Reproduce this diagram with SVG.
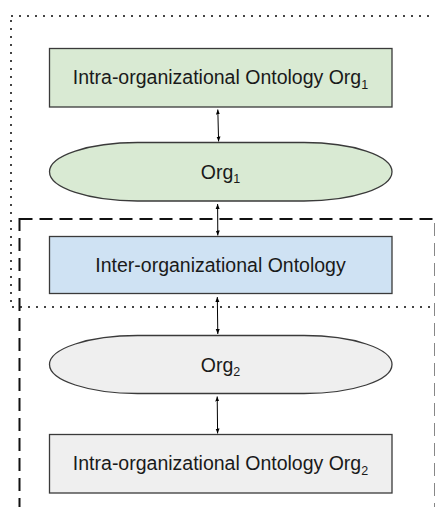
<svg xmlns="http://www.w3.org/2000/svg" width="435" height="507" viewBox="0 0 435 507">
  <defs>
    <marker id="head" viewBox="0 0 10 10" refX="10" refY="5" markerWidth="5" markerHeight="5" orient="auto-start-reverse">
      <path d="M0,1 L10,5 L0,9 z" fill="#000"/>
    </marker>
  </defs>
  <style>
    .node { stroke: #3a3a3a; stroke-width: 1.3; }
    .green { fill: #d9ead3; }
    .blue { fill: #cfe2f3; }
    .grey { fill: #efefef; }
    .label { font-family: "Liberation Sans", Arial, sans-serif; font-size: 19.5px; fill: #1a1a1a; text-anchor: middle; }
    .sub { font-size: 12.5px; }
    .link { stroke: #000; stroke-width: 1; fill: none; marker-start: url(#head); marker-end: url(#head); }
    .dotted { fill: none; stroke: #444; stroke-width: 2; stroke-dasharray: 2 6; }
    .dashed { fill: none; stroke: #111; stroke-width: 2; stroke-dasharray: 13 7; }
  </style>
  <rect width="435" height="507" fill="#fff"/>

  <!-- organisation boundaries -->
  <g id="boundaries">
    <rect class="dotted" x="11" y="16" width="440" height="291"/>
    <rect class="dashed" x="19.5" y="219" width="416" height="300"/>
  </g>

  <g id="intra-org1">
    <rect class="node green" x="49.5" y="48.5" width="342.5" height="58.5"/>
    <text class="label" x="220.5" y="84">Intra-organizational Ontology Org<tspan class="sub" dy="4.5">1</tspan></text>
  </g>

  <g id="org1">
    <rect class="node green" x="49.5" y="142.5" width="342.5" height="58.5" rx="88" ry="29.25"/>
    <text class="label" x="220.5" y="178.5">Org<tspan class="sub" dy="4.5">1</tspan></text>
  </g>

  <g id="inter-org">
    <rect class="node blue" x="49.5" y="236.5" width="342.5" height="57"/>
    <text class="label" x="220.5" y="272">Inter-organizational Ontology</text>
  </g>

  <g id="org2">
    <rect class="node grey" x="49.5" y="335.5" width="342.5" height="58" rx="88" ry="29"/>
    <text class="label" x="220.5" y="371.5">Org<tspan class="sub" dy="4.5">2</tspan></text>
  </g>

  <g id="intra-org2">
    <rect class="node grey" x="49.5" y="434.5" width="342.5" height="58.5"/>
    <text class="label" x="220.5" y="470">Intra-organizational Ontology Org<tspan class="sub" dy="4.5">2</tspan></text>
  </g>

  <g id="connectors">
    <line class="link" x1="217.8" y1="109.5" x2="218.6" y2="141.5"/>
    <line class="link" x1="217.6" y1="204" x2="217.8" y2="235.5"/>
    <line class="link" x1="217.3" y1="297" x2="217.8" y2="334"/>
    <line class="link" x1="217.2" y1="396.5" x2="217.6" y2="433.5"/>
  </g>
</svg>
